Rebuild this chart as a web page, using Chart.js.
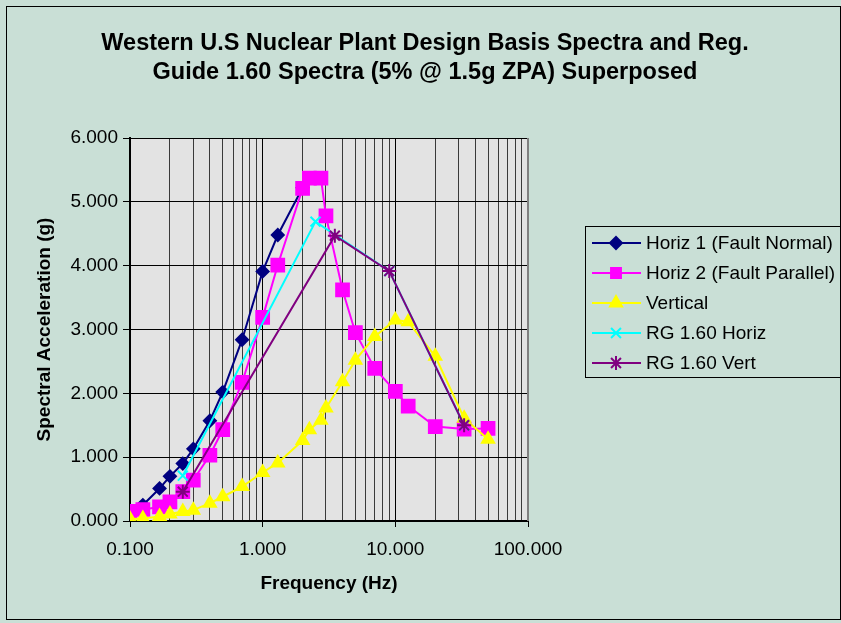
<!DOCTYPE html>
<html>
<head>
<meta charset="utf-8">
<script src="https://cdn.jsdelivr.net/npm/chart.js@4.4.0/dist/chart.umd.min.js"></script>
<style>
  html, body { margin: 0; padding: 0; background: #c9dfd6; }
  canvas { display: block; }
</style>
</head>
<body>
<canvas id="spectraChart" width="841" height="623"></canvas>
<script>
// Data
var titleLines = ['Western U.S Nuclear Plant Design Basis Spectra and Reg.', 'Guide 1.60 Spectra (5% @ 1.5g ZPA) Superposed'];
var seriesNames = ['Horiz 1 (Fault Normal)', 'Horiz 2 (Fault Parallel)', 'Vertical', 'RG 1.60 Horiz', 'RG 1.60 Vert'];

var h1Freq  = [0.1, 0.125, 0.167, 0.2, 0.25, 0.3, 0.4, 0.5, 0.7, 1.0, 1.3, 2.0];
var h1Accel = [0.16, 0.25, 0.51, 0.70, 0.90, 1.13, 1.57, 2.02, 2.84, 3.91, 4.48, 5.22];

var h2Freq  = [0.1, 0.125, 0.167, 0.2, 0.25, 0.3, 0.4, 0.5, 0.7, 1.0, 1.3, 2.0, 2.25, 2.75, 3.0, 4.0, 5.0, 7.0, 10, 12.5, 20, 33, 50];
var h2Accel = [0.15, 0.18, 0.22, 0.30, 0.46, 0.64, 1.03, 1.43, 2.17, 3.19, 4.01, 5.21, 5.37, 5.37, 4.78, 3.62, 2.95, 2.39, 2.03, 1.80, 1.48, 1.44, 1.45];

var vertFreq  = [0.1, 0.125, 0.167, 0.2, 0.25, 0.3, 0.4, 0.5, 0.7, 1.0, 1.3, 2.0, 2.25, 2.75, 3.0, 4.0, 5.0, 7.0, 10, 12.5, 20, 33, 50];
var vertAccel = [0.03, 0.04, 0.07, 0.11, 0.15, 0.17, 0.28, 0.38, 0.54, 0.76, 0.91, 1.26, 1.43, 1.58, 1.77, 2.18, 2.52, 2.89, 3.15, 3.12, 2.58, 1.61, 1.28];

var rgHorizFreq  = [0.25, 2.5, 9, 33];
var rgHorizAccel = [0.71, 4.69, 3.915, 1.5];

var rgVertFreq  = [0.25, 3.5, 9, 33];
var rgVertAccel = [0.46, 4.47, 3.915, 1.5];

var yTickValues = [0, 1, 2, 3, 4, 5, 6];
var xDecades = [0.1, 1, 10, 100];

var fontFamily = 'Arial, "Liberation Sans", sans-serif';

function toPoints(freqs, accels) {
    return freqs.map(function(f, i) { return {x: f, y: accels[i]}; });
}

function isDecade(v) {
    var l = Math.log10(v);
    return Math.abs(l - Math.round(l)) < 1e-9;
}

function makeSet(idx, freqs, accels, color, style, radius) {
    return {
        label: seriesNames[idx],
        data: toPoints(freqs, accels),
        borderColor: color,
        backgroundColor: color,
        borderWidth: 2,
        pointStyle: style,
        pointRadius: radius,
        pointBorderColor: color,
        pointBackgroundColor: color,
        pointBorderWidth: 2,
        tension: 0,
        order: 5 - idx
    };
}

var datasets = [
    makeSet(0, h1Freq, h1Accel, '#000080', 'rectRot', 6),
    makeSet(1, h2Freq, h2Accel, '#ff00ff', 'rect', 9),
    makeSet(2, vertFreq, vertAccel, '#ffff00', 'triangle', 7),
    makeSet(3, rgHorizFreq, rgHorizAccel, '#00ffff', 'crossRot', 7),
    makeSet(4, rgVertFreq, rgVertAccel, '#800080', 'star', 7)
];

// background, frame, title and legend
var framePlugin = {
    id: 'frame',
    beforeDraw: function(chart) {
        var ctx = chart.ctx, a = chart.chartArea;
        ctx.save();
        ctx.fillStyle = '#c9dfd6';
        ctx.fillRect(0, 0, chart.width, chart.height);
        ctx.fillStyle = '#e3e3e3';
        ctx.fillRect(a.left, a.top, a.right - a.left, a.bottom - a.top);
        ctx.restore();
    },
    afterDraw: function(chart) {
        var ctx = chart.ctx, a = chart.chartArea;
        ctx.save();
        // outer border
        ctx.strokeStyle = '#000';
        ctx.lineWidth = 1;
        ctx.strokeRect(6.5, 6.5, 834, 613);
        // plot area right edge
        ctx.strokeStyle = '#808080';
        ctx.lineWidth = 2;
        ctx.beginPath();
        ctx.moveTo(a.right, a.top);
        ctx.lineTo(a.right, a.bottom);
        ctx.stroke();

        // title
        ctx.fillStyle = '#000';
        ctx.font = 'bold 23.5px ' + fontFamily;
        ctx.textAlign = 'center';
        ctx.textBaseline = 'middle';
        ctx.fillText(titleLines[0], 425, 44);
        ctx.fillText(titleLines[1], 425, 73);

        // legend
        ctx.lineWidth = 1;
        ctx.strokeStyle = '#000';
        ctx.strokeRect(585.5, 226.5, 270, 151);
        ctx.font = '19px ' + fontFamily;
        ctx.textAlign = 'left';
        chart.data.datasets.forEach(function(ds, i) {
            var y = 243 + i * 30;
            ctx.strokeStyle = ds.borderColor;
            ctx.lineWidth = 2;
            ctx.beginPath();
            ctx.moveTo(592, y);
            ctx.lineTo(641, y);
            ctx.stroke();
            ctx.fillStyle = ds.pointBackgroundColor;
            ctx.strokeStyle = ds.pointBorderColor;
            Chart.helpers.drawPoint(ctx, {
                pointStyle: ds.pointStyle,
                radius: ds.pointStyle === 'rect' ? 7 : ds.pointRadius,
                rotation: 0,
                borderWidth: ds.pointBorderWidth
            }, 616, y);
            ctx.fillStyle = '#000';
            ctx.fillText(ds.label, 646, y + 1);
        });
        ctx.restore();
    }
};

var ctx = document.getElementById('spectraChart');
var spectraChart = new Chart(ctx, {
    type: 'line',
    data: { datasets: datasets },
    options: {
        responsive: false,
        animation: false,
        layout: { padding: { top: 138, right: 313, bottom: 0, left: 0 } },
        plugins: {
            legend: { display: false },
            title: { display: false },
            tooltip: { enabled: false }
        },
        scales: {
            x: {
                type: 'logarithmic',
                min: 0.1,
                max: 100,
                afterFit: function(scale) { scale.height = 102; },
                afterBuildTicks: function(scale) {
                    var ticks = [];
                    for (var d = 0; d < xDecades.length - 1; d++) {
                        for (var m = 1; m < 10; m++) {
                            ticks.push({ value: Number((m * xDecades[d]).toPrecision(6)) });
                        }
                    }
                    ticks.push({ value: xDecades[xDecades.length - 1] });
                    scale.ticks = ticks;
                },
                ticks: {
                    autoSkip: false,
                    maxRotation: 0,
                    padding: 11,
                    color: '#000',
                    font: { family: fontFamily, size: 19 },
                    callback: function(value) { return isDecade(value) ? value.toFixed(3) : ''; }
                },
                grid: {
                    color: function(c) { return c.tick && isDecade(c.tick.value) ? '#000' : '#3a3a3a'; },
                    tickColor: function(c) { return c.tick && isDecade(c.tick.value) ? '#000' : 'rgba(0,0,0,0)'; },
                    tickLength: 6,
                    lineWidth: 1
                },
                border: { color: '#000', width: 2 },
                title: {
                    display: true,
                    text: 'Frequency (Hz)',
                    color: '#000',
                    font: { family: fontFamily, size: 19, weight: 'bold' },
                    padding: { top: 0, bottom: 28 }
                }
            },
            y: {
                type: 'linear',
                min: 0,
                max: 6,
                afterFit: function(scale) { scale.width = 130; },
                afterBuildTicks: function(scale) {
                    scale.ticks = yTickValues.map(function(v) { return { value: v }; });
                },
                ticks: {
                    padding: 5,
                    color: '#000',
                    font: { family: fontFamily, size: 19 },
                    callback: function(value) { return value.toFixed(3); }
                },
                grid: { color: '#000', lineWidth: 1, tickLength: 7 },
                border: { color: '#000', width: 2 },
                title: {
                    display: true,
                    text: 'Spectral Acceleration (g)',
                    color: '#000',
                    font: { family: fontFamily, size: 19, weight: 'bold' },
                    padding: { top: 33, bottom: 0 }
                }
            }
        }
    },
    plugins: [framePlugin]
});
</script>
</body>
</html>
